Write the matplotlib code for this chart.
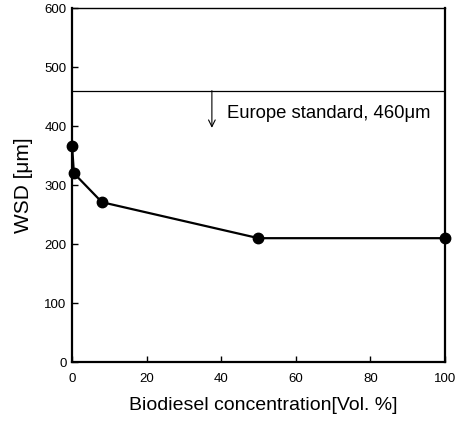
import matplotlib
matplotlib.use("Agg")
import matplotlib.pyplot as plt

plt.rcParams['font.family'] = ['Liberation Sans', 'DejaVu Sans']

# Wear scar diameter vs. biodiesel blend ratio
concentration = [0, 0.5, 8, 50, 100]
wsd = [366, 320, 271, 210, 210]
europe_standard = 460
x_ticks = [0, 20, 40, 60, 80, 100]
y_ticks = [0, 100, 200, 300, 400, 500, 600]

fig = plt.figure(figsize=(4.62, 4.24), dpi=100)
ax = fig.add_axes([0.156, 0.146, 0.807, 0.835])

ax.plot(concentration, wsd, color='black', lw=1.6, marker='o', ms=7.5,
        clip_on=False, zorder=5)
ax.axhline(europe_standard, color='black', lw=0.9)
ax.annotate('', xy=(37.5, 397), xytext=(37.5, europe_standard),
            arrowprops=dict(arrowstyle='->', color='black', lw=0.8,
                            mutation_scale=12, shrinkA=0, shrinkB=0))
ax.text(41.5, 421, 'Europe standard, 460\u03bcm', fontsize=13.3,
        va='center', ha='left')

ax.set_xlim(0, 100)
ax.set_ylim(0, 600)
ax.set_xticks(x_ticks)
ax.set_yticks(y_ticks)
ax.tick_params(direction='in', length=4, width=1, labelsize=9.5)
ax.tick_params(axis='x', pad=8)
ax.tick_params(axis='y', pad=4)
ax.set_xlabel('Biodiesel concentration[Vol. %]', fontsize=14)
ax.xaxis.set_label_coords(0.513, -0.122)
ax.xaxis.label.set_va('center')
ax.set_ylabel('WSD [\u03bcm]', fontsize=15, labelpad=8)

for side in ['left', 'bottom', 'right']:
    ax.spines[side].set_linewidth(1.6)
ax.spines['top'].set_linewidth(1.0)

fig.savefig('out.png', dpi=100)
